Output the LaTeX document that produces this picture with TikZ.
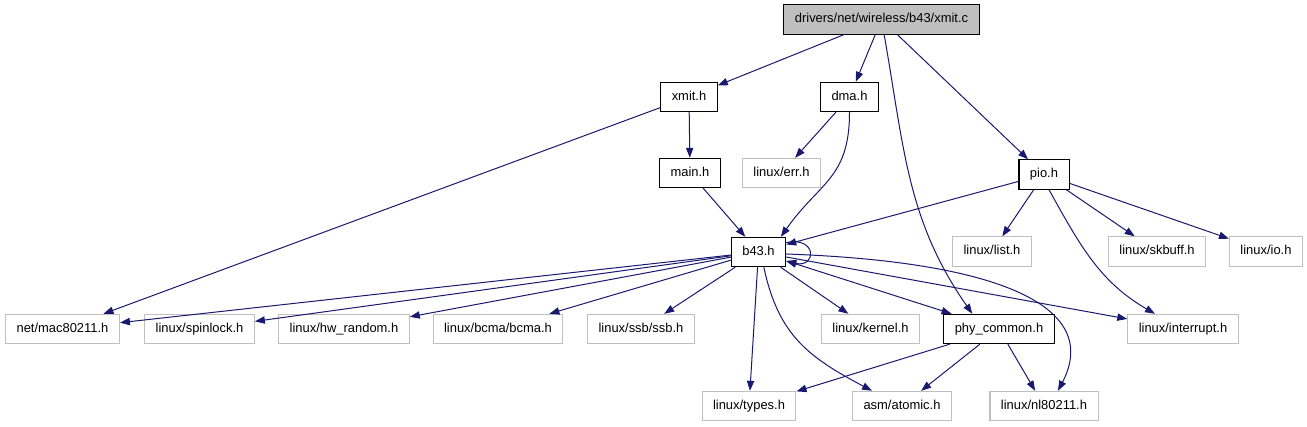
\documentclass[tikz,border=0pt]{standalone}
\usepackage{fontspec}
\setmainfont{Liberation Sans}
\usetikzlibrary{arrows.meta}
\definecolor{edgeblue}{HTML}{191970}
\definecolor{boxgray}{HTML}{BFBFBF}

\begin{document}
\begin{tikzpicture}[
    x=0.75pt, y=0.75pt,
    >={Triangle[length=7.5pt,width=5.5pt]},
    every node/.style={font=\fontsize{9.7}{11}\selectfont},
    file/.style={
      rectangle, minimum height=22pt,
      inner xsep=8.25pt, inner ysep=0pt,
      text height=7pt, text depth=2pt,
      line width=0.8pt
    },
    srcfile/.style={file, draw=black, fill=boxgray},
    incfile/.style={file, draw=black, fill=white},
    extfile/.style={file, draw=boxgray, fill=white},
    dep/.style={draw=edgeblue, line width=0.75pt, ->},
  ]
  \useasboundingbox (0,0) rectangle (1307,-427);

  % Nodes
  \node[srcfile] (xmitc) at (881.5,-19.5) {drivers/net/wireless/b43/xmit.c};
  \node[incfile] (xmith) at (689,-97)     {xmit.h};
  \node[incfile] (dmah)  at (849.5,-97)   {dma.h};
  \node[incfile] (mainh) at (690,-173)    {main.h};
  \node[extfile] (errh)  at (781.5,-173)  {linux/err.h};
  \node[incfile] (pioh)  at (1044,-174.5) {pio.h};
  \node[incfile] (b43h)  at (758.5,-252)  {b43.h};
  \node[extfile] (listh)   at (992,-251.5)  {linux/list.h};
  \node[extfile] (skbuffh) at (1157,-251.5) {linux/skbuff.h};
  \node[extfile] (ioh)     at (1266,-251.5) {linux/io.h};

  \node[extfile] (mac)       at (62.5,-329)  {net/mac80211.h};
  \node[extfile] (spinlock)  at (199.5,-329) {linux/spinlock.h};
  \node[extfile] (hwrandom)  at (344,-329)   {linux/hw\_random.h};
  \node[extfile] (bcma)      at (498,-329)   {linux/bcma/bcma.h};
  \node[extfile] (ssb)       at (641,-329)   {linux/ssb/ssb.h};
  \node[extfile] (kernel)    at (870.5,-329) {linux/kernel.h};
  \node[incfile] (phycommon) at (999,-329)   {phy\_common.h};
  \node[extfile] (interrupt) at (1183,-329)  {linux/interrupt.h};

  \node[extfile] (types)   at (749,-406)  {linux/types.h};
  \node[extfile] (atomic)  at (902,-406)  {asm/atomic.h};
  \node[extfile] (nl80211) at (1044,-406) {linux/nl80211.h};

  % Edges from xmit.c
  \draw[dep] (xmitc) -- (xmith);
  \draw[dep] (xmitc) -- (dmah);
  \draw[dep] (xmitc) -- (pioh);
  \draw[dep] ([xshift=2pt]xmitc.south) to[out=-80,in=125] ([xshift=-20pt]phycommon.north);

  % Edges from the first level headers
  \draw[dep] (xmith) -- (mainh);
  \draw[dep] (xmith) -- (mac);
  \draw[dep] (dmah) -- (errh);
  \draw[dep] (dmah.south) to[out=-90,in=55,looseness=1.2] ([xshift=-4pt]b43h.north east);
  \draw[dep] (mainh) -- (b43h);

  % pio.h
  \draw[dep] (pioh) -- (b43h);
  \draw[dep] (pioh) -- (listh);
  \draw[dep] (pioh) -- (skbuffh);
  \draw[dep] (pioh) -- (ioh);
  \draw[dep] ([xshift=3.75pt]pioh.south) to[out=-61,in=150] ([xshift=-21pt]interrupt.north);

  % b43.h
  \draw[dep] ([yshift=7pt]b43h.east) .. controls (817,-236) and (817,-268) .. ([yshift=-7pt]b43h.east);
  \draw[dep] (b43h) -- (mac);
  \draw[dep] (b43h) -- (spinlock);
  \draw[dep] (b43h) -- (hwrandom);
  \draw[dep] (b43h) -- (bcma);
  \draw[dep] (b43h) -- (ssb);
  \draw[dep] (b43h) -- (types);
  \draw[dep] (b43h) -- (kernel);
  \draw[dep, <->] (b43h) -- (phycommon);
  \draw[dep] (b43h) -- (interrupt);
  \draw[dep] ([xshift=4pt]b43h.south) to[out=-78,in=152,looseness=1.1] ([xshift=-22.5pt]atomic.north);
  \draw[dep] ([yshift=-1.5pt]b43h.east) .. controls (1010,-262) and (1100,-310) .. ([xshift=10.5pt]nl80211.north);

  % phy_common.h
  \draw[dep] (phycommon) -- (types);
  \draw[dep] (phycommon) -- (atomic);
  \draw[dep] (phycommon) -- (nl80211);

\end{tikzpicture}
\end{document}
